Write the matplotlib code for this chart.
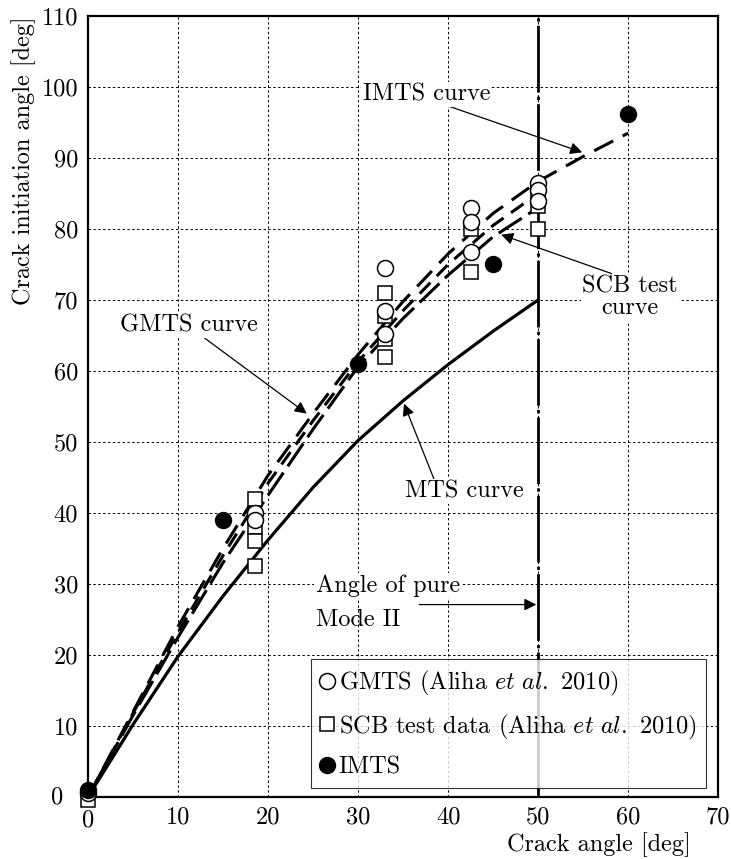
import numpy as np
import matplotlib
matplotlib.use('Agg')
import matplotlib.pyplot as plt

plt.rcParams['font.family'] = 'serif'
plt.rcParams['font.serif'] = ['cmr10', 'DejaVu Serif']
plt.rcParams['mathtext.fontset'] = 'cm'
plt.rcParams['axes.formatter.use_mathtext'] = True

# theory curves
x_mts = [0, 5, 10, 15, 20, 25, 30, 35, 40, 45, 50]
y_mts = [0, 10.2, 19.8, 28.3, 36.2, 43.6, 50.2, 55.8, 60.9, 65.6, 70]

x_imts_c = [0, 5, 10, 15, 20, 25, 30, 35, 40, 45, 50, 55, 60]
y_imts_c = [0, 12, 24, 35, 45.3, 54, 62.3, 69.8, 76.5, 82.2, 86.7, 90.2, 93.5]

x_gmts_c = [0, 5, 10, 15, 20, 25, 30, 35, 40, 45, 50]
y_gmts_c = [0, 11.8, 23.2, 34, 44.2, 53, 61.3, 68.5, 75, 80.5, 85]

x_scb_c = [0, 5, 10, 15, 20, 25, 30, 35, 40, 45, 50]
y_scb_c = [0, 11.5, 22.5, 33, 42.5, 51.8, 60.6, 67.4, 73.5, 78.9, 83]

# data points
x_gmts = [0, 18.5, 18.5, 33, 33, 33, 42.5, 42.5, 42.5, 50, 50, 50]
y_gmts = [0.5, 40, 39, 74.5, 68.5, 65.2, 83, 81, 76.8, 86.5, 85.5, 84]

x_scb = [0, 18.5, 18.5, 18.5, 18.5, 33, 33, 33, 33, 42.5, 42.5, 50, 50, 50]
y_scb = [-0.4, 42, 38, 36, 32.5, 71, 67.8, 64.5, 62, 80, 74, 85, 83.2, 80]

x_imts = [0, 15, 30, 45, 60]
y_imts = [1, 39, 61, 75, 96.2]

xticks = [0, 10, 20, 30, 40, 50, 60, 70]
yticks = [0, 10, 20, 30, 40, 50, 60, 70, 80, 90, 100, 110]

fs = 17.5

fig = plt.figure(figsize=(7.31, 8.59), dpi=100)
ax = fig.add_axes([0.1204, 0.0722, 0.862, 0.9092])

ax.set_xlim(0, 70)
ax.set_ylim(0, 110)
# the two "0" labels sit a bit away from the corner, drawn separately below
ax.set_xticks(xticks, ['' if v == 0 else str(v) for v in xticks])
ax.set_yticks(yticks, ['' if v == 0 else str(v) for v in yticks])
ax.grid(True, color='black', linestyle=(0, (2.5, 2.5)), linewidth=0.7)
ax.tick_params(length=0, labelsize=fs, pad=7)
for s in ax.spines.values():
    s.set_linewidth(1.6)
ax.set_axisbelow(True)
ax.text(-2.7, 0, '0', fontsize=fs, ha='right', va='center')
ax.text(0, -1.7, '0', fontsize=fs, ha='center', va='top')

# pure mode II line
ax.axvline(50, color='black', linewidth=2.0, linestyle=(0, (24, 1.5, 1.2, 1.5)), zorder=2)

ax.plot(x_mts, y_mts, color='black', linewidth=2.3, zorder=3)
ax.plot(x_imts_c, y_imts_c, color='black', linewidth=2.2,
        linestyle=(0, (7, 3.5)), zorder=3)
ax.plot(x_gmts_c, y_gmts_c, color='black', linewidth=2.2,
        linestyle=(2, (5, 3)), zorder=3)
ax.plot(x_scb_c, y_scb_c, color='black', linewidth=2.2,
        linestyle=(0, (9, 2.5)), zorder=3)

ax.plot(x_scb, y_scb, linestyle='none', marker='s', markersize=10.5,
        markerfacecolor='white', markeredgecolor='black', markeredgewidth=1.1,
        zorder=5, clip_on=False, label=r'SCB test data (Aliha $et\ al.$ 2010)')
ax.plot(x_gmts, y_gmts, linestyle='none', marker='o', markersize=11.5,
        markerfacecolor='white', markeredgecolor='black', markeredgewidth=1.1,
        zorder=5, clip_on=False, label=r'GMTS (Aliha $et\ al.$ 2010)')
ax.plot(x_imts, y_imts, linestyle='none', marker='o', markersize=11.5,
        color='black', zorder=6, clip_on=False, label='IMTS')

h, l = ax.get_legend_handles_labels()
leg = ax.legend([h[1], h[0], h[2]], [l[1], l[0], l[2]], loc='lower right',
                bbox_to_anchor=(0.981, 0.0115), fontsize=fs, frameon=True,
                fancybox=False, edgecolor='black', handlelength=0.55,
                handletextpad=0.2, borderpad=0.4, labelspacing=0.6,
                borderaxespad=0)
leg.get_frame().set_linewidth(0.8)
leg.set_zorder(10)

arrow = dict(arrowstyle='-|>', color='black', linewidth=0.9, mutation_scale=18,
             shrinkA=0, shrinkB=0)
bb = dict(facecolor='white', edgecolor='none', pad=1)

ax.annotate('IMTS curve', xy=(54.9, 90.8), xytext=(37.6, 99.0), fontsize=fs,
            ha='center', va='center', arrowprops=dict(arrow, relpos=(0.65, 0)),
            bbox=bb, zorder=8)
ax.annotate('GMTS curve', xy=(24.3, 54.0), xytext=(11.2, 66.4), fontsize=fs,
            ha='center', va='center', arrowprops=dict(arrow, relpos=(0.6, 0)),
            bbox=bb, zorder=8)
ax.annotate('SCB test\ncurve', xy=(45.9, 79.2), xytext=(60.2, 70.4), fontsize=fs,
            ha='center', va='center', linespacing=1.0,
            arrowprops=dict(arrow, relpos=(0.35, 1)), bbox=bb, zorder=8)
ax.annotate('MTS curve', xy=(35.1, 55.4), xytext=(41.8, 43.0), fontsize=fs,
            ha='center', va='center', arrowprops=dict(arrow, relpos=(0.25, 1)),
            bbox=bb, zorder=8)
ax.text(25.3, 29.8, 'Angle of pure', fontsize=fs, ha='left', va='center',
        bbox=bb, zorder=8)
ax.text(25.3, 25.0, 'Mode II', fontsize=fs, ha='left', va='center', zorder=8)
ax.annotate('', xy=(49.8, 27.1), xytext=(36.8, 27.1),
            arrowprops=dict(arrow), zorder=8)

ax.set_xlabel('Crack angle [deg]', fontsize=fs)
ax.xaxis.set_label_coords(0.956, -0.0615)
ax.xaxis.label.set_ha('right')
ax.xaxis.label.set_va('center')
ax.set_ylabel('Crack initiation angle [deg]', fontsize=fs)
ax.yaxis.set_label_coords(-0.1016, 1.0)
ax.yaxis.label.set_ha('right')
ax.yaxis.label.set_va('center')

fig.savefig('out.png', dpi=100)
